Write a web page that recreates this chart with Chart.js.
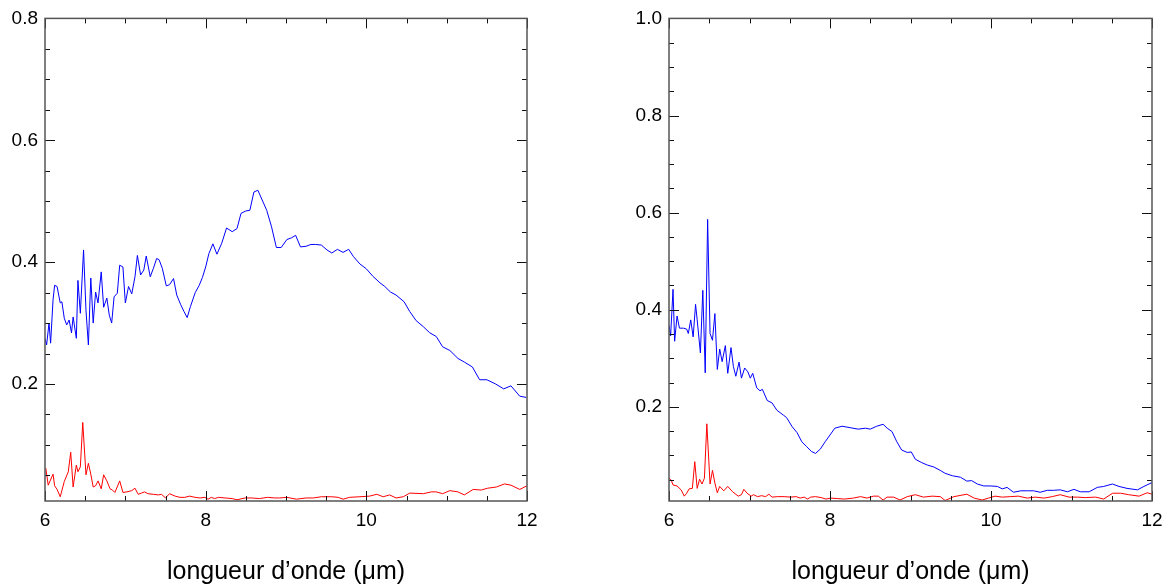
<!DOCTYPE html>
<html lang="fr">
<head>
    <meta charset="utf-8" />
    <title>Spectres - longueur d'onde</title>
    <script src="https://cdn.jsdelivr.net/npm/chart.js@4"></script>
    <style>
        body { margin: 0; background: #fff; }
        .panel { position: absolute; top: 0; }
        #leftPanel { left: 0; }
        #rightPanel { left: 585px; }
    </style>
</head>
<body>
<div class="panel" id="leftPanel"><canvas id="leftChart" width="585" height="587"></canvas></div>
<div class="panel" id="rightPanel"><canvas id="rightChart" width="586" height="587"></canvas></div>

<script>
    // tick labels
    var xTicks = [6, 8, 10, 12];
    var leftYTicks = [0.2, 0.4, 0.6, 0.8];
    var rightYTicks = [0.2, 0.4, 0.6, 0.8, 1.0];

    // left panel - blue spectrum
    var leftBlueX = [6.00, 6.02, 6.05, 6.07, 6.10, 6.12, 6.15, 6.19, 6.21, 6.24, 6.27, 6.30, 6.33, 6.35, 6.39, 6.41, 6.44, 6.48, 6.51, 6.54,
        6.57, 6.60, 6.63, 6.66, 6.70, 6.73, 6.77, 6.80, 6.83, 6.86, 6.90, 6.93, 6.97, 7.00, 7.04, 7.08, 7.12, 7.15, 7.19, 7.23,
        7.26, 7.31, 7.35, 7.39, 7.42, 7.46, 7.51, 7.55, 7.60, 7.64, 7.69, 7.73, 7.77, 7.81, 7.87, 7.92, 7.96, 8.00, 8.04, 8.09,
        8.14, 8.20, 8.26, 8.33, 8.39, 8.44, 8.50, 8.55, 8.60, 8.65, 8.72, 8.76, 8.82, 8.88, 8.94, 9.01, 9.07, 9.12, 9.18, 9.25,
        9.31, 9.37, 9.44, 9.51, 9.57, 9.64, 9.71, 9.78, 9.84, 9.92, 10.00, 10.08, 10.17, 10.23, 10.30, 10.37, 10.47, 10.54, 10.62, 10.71,
        10.79, 10.87, 10.95, 11.04, 11.14, 11.22, 11.32, 11.41, 11.50, 11.61, 11.71, 11.80, 11.91, 11.99];
    var leftBlueY = [0.275, 0.264, 0.300, 0.267, 0.338, 0.362, 0.360, 0.333, 0.335, 0.308, 0.297, 0.305, 0.284, 0.310, 0.275, 0.370, 0.316, 0.420, 0.321, 0.264,
        0.374, 0.300, 0.351, 0.333, 0.384, 0.326, 0.341, 0.313, 0.300, 0.343, 0.349, 0.395, 0.392, 0.333, 0.360, 0.348, 0.376, 0.411, 0.379, 0.387,
        0.410, 0.376, 0.390, 0.406, 0.404, 0.390, 0.361, 0.363, 0.373, 0.346, 0.330, 0.319, 0.309, 0.327, 0.350, 0.362, 0.375, 0.392, 0.414, 0.430,
        0.413, 0.431, 0.456, 0.450, 0.455, 0.480, 0.484, 0.485, 0.515, 0.518, 0.497, 0.485, 0.458, 0.424, 0.424, 0.437, 0.440, 0.444, 0.425, 0.426,
        0.429, 0.429, 0.428, 0.420, 0.415, 0.421, 0.416, 0.421, 0.409, 0.397, 0.389, 0.377, 0.366, 0.360, 0.351, 0.346, 0.335, 0.319, 0.304, 0.294,
        0.284, 0.278, 0.261, 0.255, 0.242, 0.236, 0.228, 0.207, 0.207, 0.200, 0.192, 0.197, 0.180, 0.178];

    // left panel - red spectrum
    var leftRedX = [6.01, 6.04, 6.10, 6.12, 6.15, 6.19, 6.24, 6.29, 6.32, 6.35, 6.39, 6.41, 6.44, 6.47, 6.51, 6.54, 6.57, 6.60, 6.63, 6.66,
        6.70, 6.73, 6.77, 6.81, 6.84, 6.87, 6.93, 6.97, 7.02, 7.08, 7.12, 7.16, 7.20, 7.24, 7.28, 7.35, 7.41, 7.45, 7.50, 7.55,
        7.62, 7.68, 7.74, 7.80, 7.87, 7.93, 7.99, 8.03, 8.07, 8.11, 8.16, 8.24, 8.33, 8.39, 8.49, 8.57, 8.67, 8.77, 8.86, 8.92,
        9.01, 9.13, 9.25, 9.34, 9.44, 9.57, 9.65, 9.71, 9.79, 9.92, 10.04, 10.13, 10.21, 10.29, 10.37, 10.46, 10.54, 10.71, 10.81, 10.87,
        10.95, 11.04, 11.14, 11.22, 11.33, 11.43, 11.51, 11.62, 11.72, 11.80, 11.91, 12.00];
    var leftRedY = [0.062, 0.034, 0.052, 0.033, 0.027, 0.015, 0.040, 0.056, 0.088, 0.031, 0.067, 0.056, 0.064, 0.137, 0.051, 0.070, 0.052, 0.031, 0.033, 0.041,
        0.028, 0.051, 0.041, 0.028, 0.026, 0.022, 0.041, 0.022, 0.023, 0.025, 0.029, 0.019, 0.021, 0.023, 0.020, 0.019, 0.018, 0.019, 0.013, 0.020,
        0.016, 0.014, 0.014, 0.016, 0.014, 0.013, 0.014, 0.011, 0.014, 0.012, 0.014, 0.013, 0.012, 0.010, 0.013, 0.013, 0.012, 0.014, 0.013, 0.013,
        0.014, 0.011, 0.013, 0.013, 0.015, 0.015, 0.014, 0.011, 0.014, 0.015, 0.016, 0.019, 0.015, 0.018, 0.013, 0.015, 0.021, 0.020, 0.023, 0.023,
        0.020, 0.025, 0.023, 0.018, 0.027, 0.026, 0.029, 0.031, 0.036, 0.034, 0.027, 0.033];

    // right panel - blue spectrum
    var rightBlueX = [6.00, 6.02, 6.05, 6.07, 6.10, 6.13, 6.18, 6.22, 6.24, 6.27, 6.30, 6.33, 6.35, 6.39, 6.42, 6.45, 6.48, 6.51, 6.54, 6.57,
        6.60, 6.63, 6.66, 6.70, 6.73, 6.77, 6.80, 6.83, 6.87, 6.90, 6.94, 6.98, 7.01, 7.04, 7.09, 7.13, 7.16, 7.22, 7.28, 7.34,
        7.42, 7.46, 7.53, 7.59, 7.65, 7.71, 7.77, 7.82, 7.88, 7.94, 8.00, 8.06, 8.15, 8.25, 8.35, 8.44, 8.50, 8.58, 8.66, 8.71,
        8.77, 8.83, 8.89, 8.96, 9.01, 9.06, 9.14, 9.21, 9.29, 9.37, 9.43, 9.52, 9.62, 9.70, 9.76, 9.83, 9.91, 9.99, 10.08, 10.14,
        10.20, 10.28, 10.37, 10.45, 10.53, 10.61, 10.70, 10.78, 10.86, 10.95, 11.03, 11.11, 11.22, 11.32, 11.40, 11.51, 11.59, 11.69, 11.82, 11.90,
        12.00];
    var rightBlueY = [0.368, 0.346, 0.442, 0.335, 0.387, 0.362, 0.362, 0.360, 0.351, 0.379, 0.344, 0.411, 0.379, 0.311, 0.440, 0.270, 0.586, 0.351, 0.337, 0.392,
        0.277, 0.319, 0.293, 0.326, 0.269, 0.322, 0.283, 0.263, 0.292, 0.259, 0.280, 0.272, 0.259, 0.269, 0.239, 0.233, 0.236, 0.213, 0.208, 0.193,
        0.183, 0.178, 0.159, 0.147, 0.128, 0.118, 0.108, 0.104, 0.113, 0.128, 0.142, 0.156, 0.160, 0.157, 0.154, 0.156, 0.154, 0.160, 0.164, 0.156,
        0.149, 0.128, 0.111, 0.106, 0.107, 0.092, 0.085, 0.080, 0.076, 0.069, 0.063, 0.058, 0.055, 0.047, 0.048, 0.041, 0.037, 0.037, 0.036, 0.031,
        0.034, 0.024, 0.027, 0.027, 0.027, 0.024, 0.028, 0.028, 0.029, 0.025, 0.030, 0.025, 0.025, 0.034, 0.036, 0.041, 0.036, 0.032, 0.029, 0.036,
        0.044];

    // right panel - red spectrum
    var rightRedX = [6.00, 6.03, 6.05, 6.10, 6.15, 6.19, 6.22, 6.25, 6.29, 6.32, 6.35, 6.38, 6.41, 6.44, 6.47, 6.51, 6.54, 6.57, 6.60, 6.63,
        6.68, 6.73, 6.79, 6.86, 6.90, 6.93, 6.97, 7.02, 7.05, 7.10, 7.15, 7.20, 7.24, 7.28, 7.35, 7.43, 7.51, 7.58, 7.63, 7.68,
        7.72, 7.76, 7.82, 7.89, 7.95, 8.01, 8.09, 8.18, 8.29, 8.38, 8.46, 8.54, 8.60, 8.66, 8.71, 8.79, 8.87, 8.96, 9.06, 9.16,
        9.27, 9.37, 9.43, 9.54, 9.70, 9.79, 9.89, 9.97, 10.05, 10.14, 10.24, 10.34, 10.45, 10.55, 10.66, 10.76, 10.86, 10.97, 11.07, 11.17,
        11.30, 11.40, 11.51, 11.61, 11.71, 11.84, 11.94, 12.00];
    var rightRedY = [0.053, 0.048, 0.039, 0.037, 0.029, 0.016, 0.022, 0.031, 0.032, 0.087, 0.032, 0.051, 0.041, 0.053, 0.165, 0.041, 0.069, 0.043, 0.023, 0.036,
        0.027, 0.036, 0.025, 0.016, 0.019, 0.030, 0.022, 0.016, 0.019, 0.015, 0.017, 0.015, 0.020, 0.014, 0.015, 0.015, 0.014, 0.015, 0.012, 0.014,
        0.010, 0.014, 0.015, 0.013, 0.010, 0.012, 0.011, 0.010, 0.012, 0.015, 0.012, 0.016, 0.016, 0.008, 0.014, 0.014, 0.008, 0.015, 0.019, 0.014,
        0.016, 0.015, 0.007, 0.015, 0.020, 0.012, 0.008, 0.012, 0.016, 0.014, 0.015, 0.016, 0.012, 0.014, 0.012, 0.015, 0.019, 0.014, 0.014, 0.013,
        0.014, 0.010, 0.022, 0.022, 0.019, 0.016, 0.023, 0.020];

    function toPoints(xs, ys) {
        var pts = [];
        for (var i = 0; i < xs.length; i++) pts.push({ x: xs[i], y: ys[i] });
        return pts;
    }

    // IDL-style box: ticks on all four sides, pointing inward
    var frameTicks = {
        id: 'frameTicks',
        afterDatasetsDraw: function (chart, args, opts) {
            var ctx = chart.ctx, a = chart.chartArea;
            var xs = chart.scales.x, ys = chart.scales.y;
            ctx.save();
            ctx.strokeStyle = '#111';
            ctx.lineWidth = 1;
            ctx.beginPath();
            var n, v, p, len;
            for (n = Math.ceil(xs.min / opts.xMinor); n * opts.xMinor <= xs.max + 1e-9; n++) {
                v = n * opts.xMinor;
                p = Math.round(xs.getPixelForValue(v)) + 0.5;
                len = (Math.abs(v / opts.xMajor - Math.round(v / opts.xMajor)) < 1e-6) ? 10 : 5;
                ctx.moveTo(p, a.bottom); ctx.lineTo(p, a.bottom - len);
                ctx.moveTo(p, a.top); ctx.lineTo(p, a.top + len);
            }
            for (n = Math.ceil(ys.min / opts.yMinor - 1e-6); n * opts.yMinor <= ys.max + 1e-9; n++) {
                v = n * opts.yMinor;
                p = Math.round(ys.getPixelForValue(v)) + 0.5;
                len = (Math.abs(v / opts.yMajor - Math.round(v / opts.yMajor)) < 1e-6) ? 10 : 5;
                ctx.moveTo(a.left, p); ctx.lineTo(a.left + len, p);
                ctx.moveTo(a.right, p); ctx.lineTo(a.right - len, p);
            }
            ctx.stroke();
            ctx.strokeStyle = '#555';
            ctx.lineWidth = 1.5;
            ctx.strokeRect(a.left, a.top, a.right - a.left, a.bottom - a.top);
            ctx.restore();
        }
    };

    function makeChart(canvasId, blue, red, yMin, yMax, yTicks, yAxisWidth, padRight) {
        var ctx = document.getElementById(canvasId).getContext('2d');
        return new Chart(ctx, {
            type: 'line',
            data: {
                datasets: [{
                    data: blue,
                    borderColor: '#0000ff',
                    borderWidth: 1,
                    pointRadius: 0,
                    tension: 0
                }, {
                    data: red,
                    borderColor: '#ff0000',
                    borderWidth: 1,
                    pointRadius: 0,
                    tension: 0
                }]
            },
            options: {
                responsive: false,
                animation: false,
                events: [],
                layout: { padding: { top: 18, right: padRight, left: 0, bottom: 0 } },
                plugins: {
                    legend: { display: false },
                    tooltip: { enabled: false },
                    frameTicks: { xMinor: 0.5, xMajor: 2, yMinor: 0.05, yMajor: 0.2 }
                },
                scales: {
                    x: {
                        type: 'linear',
                        min: 6,
                        max: 12,
                        grid: { display: false, drawTicks: false },
                        border: { display: false },
                        afterBuildTicks: function (scale) {
                            scale.ticks = xTicks.map(function (v) { return { value: v }; });
                        },
                        afterFit: function (scale) { scale.height = 86; },
                        ticks: {
                            padding: 8,
                            maxRotation: 0,
                            color: '#000',
                            font: { family: 'Liberation Sans', size: 19 },
                            callback: function (value) { return String(value); }
                        },
                        title: {
                            display: true,
                            text: 'longueur d\u2019onde (\u03bcm)',
                            color: '#000',
                            font: { family: 'Liberation Sans', size: 25 },
                            padding: { top: 0, bottom: 0 }
                        }
                    },
                    y: {
                        type: 'linear',
                        min: yMin,
                        max: yMax,
                        grid: { display: false, drawTicks: false },
                        border: { display: false },
                        afterBuildTicks: function (scale) {
                            scale.ticks = yTicks.map(function (v) { return { value: v }; });
                        },
                        afterFit: function (scale) { scale.width = yAxisWidth; },
                        ticks: {
                            padding: 7,
                            color: '#000',
                            font: { family: 'Liberation Sans', size: 19 },
                            callback: function (value) { return value.toFixed(1); }
                        }
                    }
                }
            },
            plugins: [frameTicks]
        });
    }

    var leftChart = makeChart('leftChart', toPoints(leftBlueX, leftBlueY), toPoints(leftRedX, leftRedY),
        0.008, 0.8, leftYTicks, 45, 58);
    var rightChart = makeChart('rightChart', toPoints(rightBlueX, rightBlueY), toPoints(rightRedX, rightRedY),
        0.006, 1.0, rightYTicks, 84, 19);
</script>
</body>
</html>
